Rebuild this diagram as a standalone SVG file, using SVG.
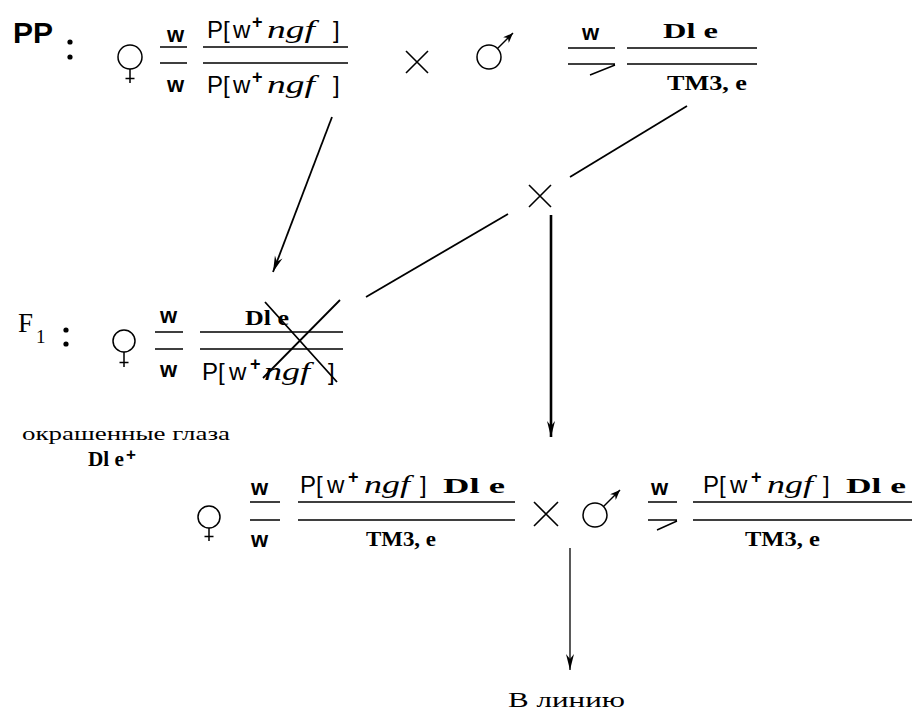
<svg xmlns="http://www.w3.org/2000/svg" width="912" height="714" viewBox="0 0 912 714">
<style>
.sans{font-family:"Liberation Sans",Arial,sans-serif;fill:#000}
.serif{font-family:"Liberation Serif","Times New Roman",serif;fill:#000}
.lab{font-size:24px}
.sup{font-size:18px;font-weight:bold}
.it{font-family:"Liberation Serif","Times New Roman",serif;font-style:italic;font-size:26px;fill:#000}
.wb{font-family:"Liberation Sans",Arial,sans-serif;font-weight:bold;font-size:22px}
.gt{font-family:"Liberation Serif","Times New Roman",serif;font-weight:bold;font-size:21px}
.ln{stroke:#000;stroke-width:1.4;fill:none}
.sym{stroke:#000;stroke-width:1.5;fill:none}
.con{stroke:#000;stroke-width:1.8;fill:none}
.x{stroke:#000;stroke-width:1.6;fill:none}
</style>
<defs>
<marker id="ah" markerUnits="userSpaceOnUse" viewBox="0 0 16 10" refX="16" refY="5" markerWidth="16" markerHeight="10" orient="auto">
<path d="M0,1 L16,5 L0,9 L5,5 Z" fill="#000"/>
</marker>
<marker id="ahs" markerUnits="userSpaceOnUse" viewBox="0 0 10 8" refX="10" refY="4" markerWidth="10" markerHeight="8" orient="auto">
<path d="M0,0 L10,4 L0,8 L3,4 Z" fill="#000"/>
</marker>
</defs>

<!-- PP row -->
<g id="pp-label">
<text class="sans" x="13" y="43" font-size="30" font-weight="bold">PP</text>
<circle cx="70" cy="42" r="2.6" fill="#000"/>
<circle cx="70" cy="57" r="2.6" fill="#000"/>
</g>
<g id="pp-female">
<circle class="sym" cx="130" cy="57" r="12"/>
<path class="sym" d="M130,69 V83 M125.5,78.5 H134.5"/>
<text class="wb" x="167" y="42">w</text>
<path class="ln" d="M160,47 H187 M160,63 H187"/>
<text class="wb" x="167" y="92">w</text>
<path class="ln" d="M203,47 H348 M203,63 H348"/>
<text class="sans lab" y="38"><tspan x="207">P[</tspan><tspan x="233">w</tspan><tspan x="252" dy="-10" class="sup">+</tspan></text>
<text class="it" x="267" y="38" textLength="48" lengthAdjust="spacingAndGlyphs">ngf</text>
<text class="sans lab" x="333" y="38">]</text>
<text class="sans lab" y="93"><tspan x="207">P[</tspan><tspan x="233">w</tspan><tspan x="252" dy="-10" class="sup">+</tspan></text>
<text class="it" x="267" y="93" textLength="48" lengthAdjust="spacingAndGlyphs">ngf</text>
<text class="sans lab" x="333" y="93">]</text>
</g>
<g id="pp-cross">
<path class="x" d="M406,51 L428,73 M428,51 L406,73"/>
</g>
<g id="pp-male">
<circle class="sym" cx="489" cy="57" r="12"/>
<path class="sym" d="M497.5,48.5 L513,33" marker-end="url(#ahs)"/>
<text class="wb" x="582" y="40">w</text>
<path class="ln" d="M568,48 H615 M568,64 H615 M590,75 L615,65"/>
<path class="ln" d="M627,48 H757 M627,64 H757"/>
<text class="gt" x="663" y="38" textLength="55" lengthAdjust="spacingAndGlyphs">Dl  e</text>
<text class="gt" x="667" y="90" textLength="80" lengthAdjust="spacingAndGlyphs">TM3, e</text>
</g>

<!-- F1 row -->
<g id="f1-label">
<text class="serif" x="18" y="332" font-size="27">F</text>
<text class="serif" x="36" y="343" font-size="19">1</text>
<circle cx="66" cy="330" r="2.6" fill="#000"/>
<circle cx="66" cy="344" r="2.6" fill="#000"/>
</g>
<g id="f1-female">
<circle class="sym" cx="124" cy="341" r="11"/>
<path class="sym" d="M124,352 V367 M119.5,362.5 H128.5"/>
<text class="wb" x="160" y="323">w</text>
<path class="ln" d="M155,332 H183 M155,349 H183"/>
<text class="wb" x="160" y="377">w</text>
<path class="ln" d="M200,332 H343 M200,349 H343"/>
<text class="gt" x="245" y="325" textLength="44" lengthAdjust="spacingAndGlyphs">Dl e</text>
<text class="sans lab" y="380"><tspan x="202">P[</tspan><tspan x="229">w</tspan><tspan x="250" dy="-10" class="sup">+</tspan></text>
<text class="it" x="264" y="380" textLength="46" lengthAdjust="spacingAndGlyphs">ngf</text>
<text class="sans lab" x="328" y="380">]</text>
<path class="con" d="M265,302 L337,382 M340,300 L263,378"/>
</g>
<g id="f1-note">
<text class="serif" x="22" y="440" font-size="18" textLength="208" lengthAdjust="spacingAndGlyphs">окрашенные глаза</text>
<text class="gt" x="88" y="466" textLength="36" lengthAdjust="spacingAndGlyphs">Dl  e</text>
<text class="sans" x="126" y="460" font-size="17" font-weight="bold">+</text>
</g>

<!-- bottom row -->
<g id="f2-female">
<circle class="sym" cx="209" cy="517" r="11"/>
<path class="sym" d="M209,528 V541 M204.5,536.5 H213.5"/>
<text class="wb" x="251" y="495">w</text>
<path class="ln" d="M250,502 H280 M250,520 H280"/>
<text class="wb" x="251" y="547">w</text>
<path class="ln" d="M298,502 H515 M298,520 H515"/>
<text class="sans lab" y="493"><tspan x="300">P[</tspan><tspan x="327">w</tspan><tspan x="348" dy="-10" class="sup">+</tspan></text>
<text class="it" x="364" y="493" textLength="46" lengthAdjust="spacingAndGlyphs">ngf</text>
<text class="sans lab" x="420" y="493">]</text>
<text class="gt" x="443" y="493" textLength="62" lengthAdjust="spacingAndGlyphs">Dl  e</text>
<text class="gt" x="366" y="546" textLength="70" lengthAdjust="spacingAndGlyphs">TM3, e</text>
</g>
<g id="f2-cross">
<path class="x" d="M534,502 L558,526 M558,502 L534,526"/>
</g>
<g id="f2-male">
<circle class="sym" cx="595" cy="515" r="12"/>
<path class="sym" d="M603.5,506.5 L620,490" marker-end="url(#ahs)"/>
<text class="wb" x="651" y="495">w</text>
<path class="ln" d="M648,502 H677 M648,520 H677 M657,530 L677,521"/>
<path class="ln" d="M693,502 H912 M693,520 H912"/>
<text class="sans lab" y="493"><tspan x="703">P[</tspan><tspan x="730">w</tspan><tspan x="751" dy="-10" class="sup">+</tspan></text>
<text class="it" x="767" y="493" textLength="46" lengthAdjust="spacingAndGlyphs">ngf</text>
<text class="sans lab" x="823" y="493">]</text>
<text class="gt" x="846" y="493" textLength="60" lengthAdjust="spacingAndGlyphs">Dl  e</text>
<text class="gt" x="745" y="546" textLength="75" lengthAdjust="spacingAndGlyphs">TM3, e</text>
</g>
<g id="result">
<text class="serif" x="508" y="707" font-size="21" textLength="117" lengthAdjust="spacingAndGlyphs">В линию</text>
</g>

<!-- connectors -->
<g id="connectors">
<path class="con" d="M332,117 L273,272" marker-end="url(#ah)"/>
<path class="con" d="M687,106 L570,177"/>
<path class="x" d="M529,185 L551,207 M551,185 L529,207"/>
<path class="con" d="M508,214 L366,297"/>
<path d="M551,215 V437" stroke="#000" stroke-width="2.6" fill="none" marker-end="url(#ah)"/>
<path d="M570,548 V670" stroke="#000" stroke-width="1.3" fill="none" marker-end="url(#ah)"/>
</g>
</svg>
